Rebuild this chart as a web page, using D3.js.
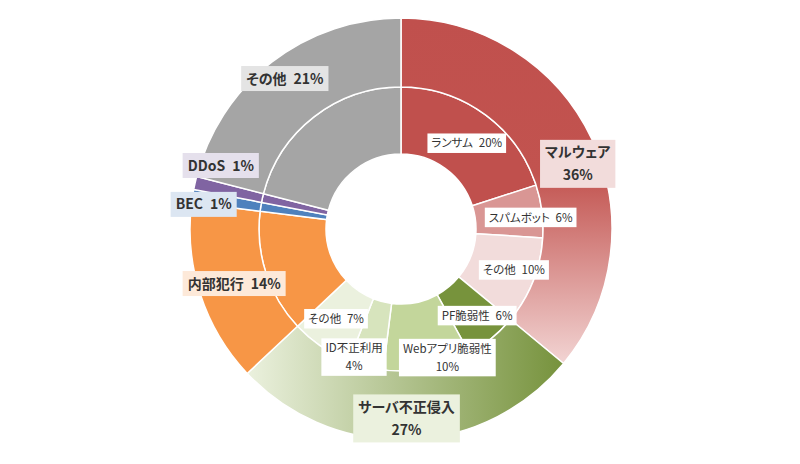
<!DOCTYPE html>
<html><head><meta charset="utf-8">
<script src="https://cdn.jsdelivr.net/npm/d3@7"></script>
<style>
html,body{margin:0;padding:0;background:#fff;}
svg text{font-family:"Noto Sans CJK JP","Noto Sans",sans-serif;font-feature-settings:"palt";fill:#333333;}
</style></head>
<body><svg id="chart" width="800" height="464"></svg>
<script>
// ---- data ----
const outerLabels = ["マルウェア","サーバ不正侵入","内部犯行","BEC","DDoS","その他"];
const outerValues = [36,27,14,1,1,21];
const innerLabels = ["ランサム","スパムボット","その他","PF脆弱性","Webアプリ脆弱性","ID不正利用","その他","内部犯行","BEC","DDoS","その他"];
const innerValues = [20,6,10,6,10,4,7,14,1,1,21];

// ---- styles / layout ----
const outerFills = ["url(#gRed)","url(#gGreen)","#F79646","#4F81BD","#8064A2","#A5A5A5"];
const innerFills = ["#C0504D","#D99694","#F2DCDB","#77933C","#C3D69B","#D7E4BD","#EBF1DE","#F79646","#4F81BD","#8064A2","#A5A5A5"];
const outerBoxFills = ["#F2DCDB","#EBF1DE","#FDE9D9","#DCE6F2","#E5E0EC","#E4E4E4"];
const outerTwoLine = [true,true,false,false,false,false];
const outerOffsets = [[17,10],[0,13],[1,0],[-23,3],[-8,-25],[-8,-11]];
const innerShow = [true,true,true,true,true,true,true,false,false,false,false];
const innerTwoLine = [false,false,false,false,true,true,false];
const innerOffsets = [[2,2],[22,2],[12,1],[7,3],[26,22],[-20,23],[-4,0]];

const W=800,H=464,cx=401,cy=229,r0=75,r1=142,r2=211;
const svg = d3.select("#chart");
const defs = svg.append("defs");
const gr = defs.append("linearGradient").attr("id","gRed").attr("x1",0).attr("y1",0).attr("x2",0).attr("y2",1);
gr.append("stop").attr("offset",0).attr("stop-color","#C0504D");
gr.append("stop").attr("offset",0.45).attr("stop-color","#C2534F");
gr.append("stop").attr("offset",1).attr("stop-color","#F2D4D3");
const gg = defs.append("linearGradient").attr("id","gGreen").attr("x1",0).attr("y1",0).attr("x2",1).attr("y2",0);
gg.append("stop").attr("offset",0).attr("stop-color","#EBF1DE");
gg.append("stop").attr("offset",1).attr("stop-color","#76923C");

const g = svg.append("g").attr("transform",`translate(${cx},${cy})`);
const pie = d3.pie().sort(null).value(d=>d);
const outerArcs = pie(outerValues);
const innerArcs = pie(innerValues);
const arcOuter = d3.arc().innerRadius(r1).outerRadius(r2);
const arcInner = d3.arc().innerRadius(r0).outerRadius(r1);

g.selectAll("path.inner").data(innerArcs).enter().append("path")
  .attr("class","inner").attr("d",arcInner)
  .attr("fill",(d,i)=>innerFills[i]).attr("stroke","#fff").attr("stroke-width",1.5);
g.selectAll("path.outer").data(outerArcs).enter().append("path")
  .attr("class","outer").attr("d",arcOuter)
  .attr("fill",(d,i)=>outerFills[i]).attr("stroke","#fff").attr("stroke-width",1.5);

function drawLabel(x,y,lines,size,weight,boxFill,lineH,padX,padY){
  const lg = g.append("g").attr("transform",`translate(${x},${y})`);
  const rect = lg.append("rect").attr("fill",boxFill);
  const n = lines.length;
  const t = lg.append("text").attr("text-anchor","middle")
    .style("font-size",size+"px").style("font-weight",weight);
  lines.forEach((s,k)=>{
    t.append("tspan").attr("x",0).attr("y",(k-(n-1)/2)*lineH).attr("dy","0.36em").text(s);
  });
  let w=0; t.selectAll("tspan").each(function(){w=Math.max(w,this.getComputedTextLength());});
  const h = (n-1)*lineH + size + 2*padY;
  rect.attr("x",-w/2-padX).attr("y",-h/2).attr("width",w+2*padX).attr("height",h);
}

const sep = "\u2002";
outerArcs.forEach((d,i)=>{
  const c = arcOuter.centroid(d);
  const pct = outerValues[i]+"%";
  const lines = outerTwoLine[i] ? [outerLabels[i], pct] : [outerLabels[i]+sep+pct];
  drawLabel(c[0]+outerOffsets[i][0], c[1]+outerOffsets[i][1], lines, 14, "bold", outerBoxFills[i], 23, 5, 5.5);
});
innerArcs.forEach((d,i)=>{
  if(!innerShow[i]) return;
  const c = arcInner.centroid(d);
  const pct = innerValues[i]+"%";
  const lines = innerTwoLine[i] ? [innerLabels[i], pct] : [innerLabels[i]+sep+pct];
  drawLabel(c[0]+innerOffsets[i][0], c[1]+innerOffsets[i][1], lines, 11.5, "normal", "#FFFFFF", 18, 4, 4);
});
</script></body></html>
